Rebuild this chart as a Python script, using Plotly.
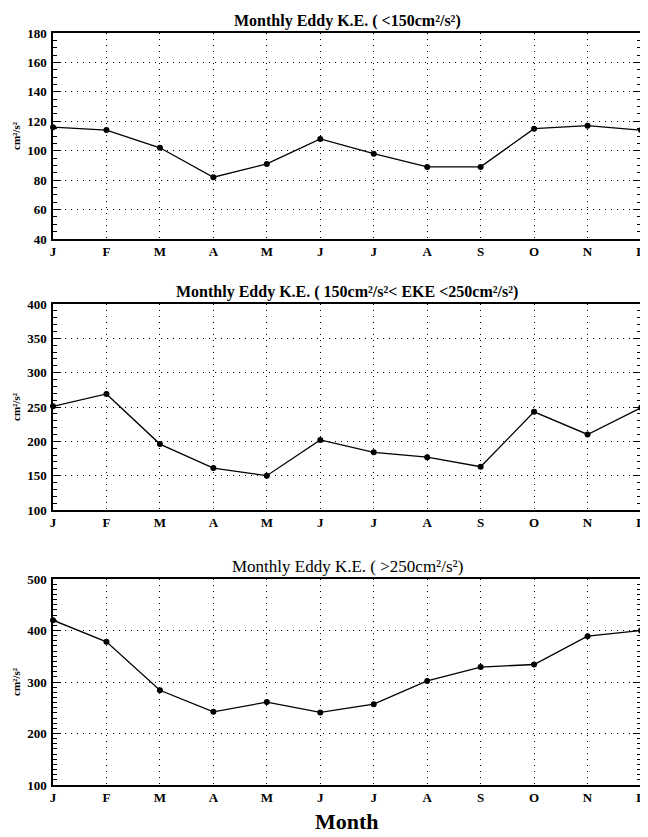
import plotly.graph_objects as go

months = ["J", "F", "M", "A", "M", "J", "J", "A", "S", "O", "N", "D"]
eke_low = [116, 114, 102, 82, 91, 108, 98, 89, 89, 115, 117, 114]
eke_mid = [251, 269, 196, 161, 150, 202, 184, 177, 163, 243, 210, 249]
eke_high = [420, 378, 284, 242, 261, 241, 257, 302, 329, 334, 389, 400]

titles = [
    "Monthly Eddy K.E. ( <150cm²/s²)",
    "Monthly Eddy K.E. ( 150cm²/s²< EKE <250cm²/s²)",
    "Monthly Eddy K.E. ( >250cm²/s²)",
]
title_weights = ["bold", "bold", "normal"]
title_sizes = [16, 16, 17]
y_ranges = [(40, 180), (100, 400), (100, 500)]
y_dticks = [20, 50, 100]
y_minor = [5, 10, 10]
series = [eke_low, eke_mid, eke_high]

# page has an 8px body margin; figure coords = screen coords - 8
W, H = 640, 829
OFF = 8
px_domains = [(33, 239), (304, 510), (579, 785)]
domains = [[1 - (b - OFF) / H, 1 - (t - OFF) / H] for t, b in px_domains]

FONT = "Liberation Serif"
fig = go.Figure()
xs = list(range(len(months)))

for i in range(3):
    ax = "" if i == 0 else str(i + 1)
    fig.add_trace(go.Scatter(
        x=xs, y=series[i], mode="lines+markers",
        line=dict(color="black", width=1.3),
        marker=dict(color="black", size=6),
        cliponaxis=False, showlegend=False,
        xaxis="x" + ax, yaxis="y" + ax,
    ))
    fig.layout["xaxis" + ax] = dict(
        domain=[0, 1], anchor="y" + ax, range=[0, 11], automargin=False,
        tickvals=xs, ticktext=months, ticks="",
        showgrid=True, gridcolor="black", gridwidth=1, griddash="1px,5px",
        showline=True, linecolor="black", linewidth=1.5, mirror=True,
        zeroline=False,
        tickfont=dict(family=FONT, size=13, color="black", weight="bold"),
    )
    lo, hi = y_ranges[i]
    fig.layout["yaxis" + ax] = dict(
        domain=domains[i], anchor="x" + ax, range=[lo, hi], automargin=False,
        tickmode="linear", tick0=lo, dtick=y_dticks[i],
        ticks="inside", ticklen=8, tickwidth=1, tickcolor="black",
        minor=dict(ticks="inside", dtick=y_minor[i], ticklen=4,
                   tickcolor="black", tickwidth=1, showgrid=False),
        showgrid=True, gridcolor="black", gridwidth=1, griddash="1px,5px",
        showline=True, linecolor="black", linewidth=1.5, mirror="ticks",
        zeroline=False, ticklabelstandoff=2,
        tickfont=dict(family=FONT, size=13, color="black", weight="bold"),
        title=dict(text="cm²/s²", standoff=4,
                   font=dict(family=FONT, size=11, color="black", weight="bold")),
    )
    fig.add_annotation(
        text=titles[i], xref="paper", yref="paper",
        x=0.5, y=domains[i][1], yanchor="bottom", xanchor="center",
        yshift=1, showarrow=False,
        font=dict(family=FONT, size=title_sizes[i], color="black",
                  weight=title_weights[i]),
    )

fig.add_annotation(
    text="Month", xref="paper", yref="paper", x=0.5, y=0,
    yanchor="bottom", xanchor="center", yshift=1, showarrow=False,
    font=dict(family=FONT, size=22, color="black", weight="bold"),
)

fig.update_layout(
    width=W, height=H,
    margin=dict(l=45, r=7, t=0, b=0),
    paper_bgcolor="white", plot_bgcolor="white",
)

fig.write_html("out.html")
